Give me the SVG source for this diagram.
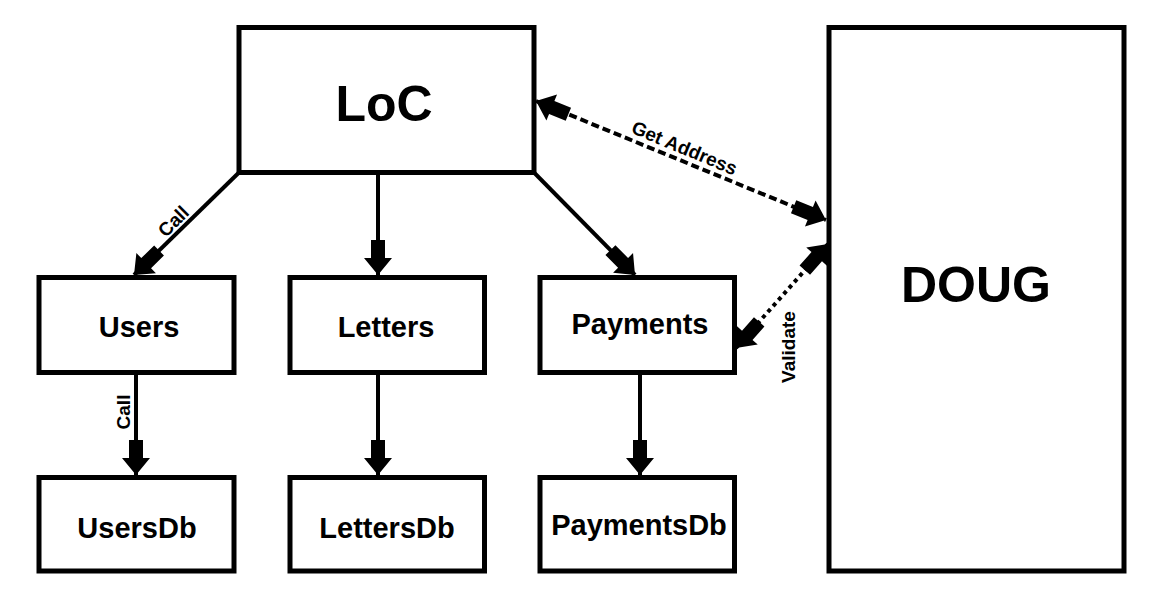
<svg xmlns="http://www.w3.org/2000/svg" width="1162" height="606" viewBox="0 0 1162 606">
<style>
.box{fill:#fff;stroke:#000;stroke-width:5}
.t{font-family:"Liberation Sans",Arial,sans-serif;font-weight:bold;fill:#000;text-anchor:middle}
.big{font-size:50px}
.mid{font-size:29px}
.lbl{font-size:19px}
.c{fill:none;stroke:#000;stroke-width:4}
.dash{stroke-dasharray:8 4}
.dot{stroke-dasharray:4 4}
</style>
<defs>
<marker id="ah" markerUnits="userSpaceOnUse" viewBox="-36 -16 37 32" refX="0" refY="0" markerWidth="37" markerHeight="32" orient="auto-start-reverse">
<path d="M-35,-7 L-17,-7 L-17,-14 L0,0 L-17,14 L-17,7 L-35,7 Z" fill="#000"/>
</marker>
</defs>
<rect width="1162" height="606" fill="#fff"/>
<g id="LoC"><rect class="box" x="239" y="27.5" width="295" height="145"/><text class="t big" x="384" y="121">LoC</text></g>
<g id="DOUG"><rect class="box" x="829" y="27.5" width="295" height="543.5"/><text class="t big" x="976" y="302">DOUG</text></g>
<g id="Users"><rect class="box" x="39" y="277.5" width="195" height="95"/><text class="t mid" x="139" y="337">Users</text></g>
<g id="Letters"><rect class="box" x="290" y="277.5" width="194.5" height="95"/><text class="t mid" x="386" y="337">Letters</text></g>
<g id="Payments"><rect class="box" x="540" y="277.5" width="194.5" height="95"/><text class="t mid" x="640" y="334">Payments</text></g>
<g id="UsersDb"><rect class="box" x="39" y="477.5" width="195" height="93.5"/><text class="t mid" x="137" y="538">UsersDb</text></g>
<g id="LettersDb"><rect class="box" x="290" y="477.5" width="194.5" height="93.5"/><text class="t mid" x="387" y="538">LettersDb</text></g>
<g id="PaymentsDb"><rect class="box" x="540" y="477.5" width="194.5" height="93.5"/><text class="t mid" x="639" y="535">PaymentsDb</text></g>
<g id="connectors">
<line class="c" x1="239" y1="172.5" x2="134" y2="275" marker-end="url(#ah)"/>
<line class="c" x1="378" y1="172.5" x2="378" y2="275" marker-end="url(#ah)"/>
<line class="c" x1="534" y1="172.5" x2="635" y2="275" marker-end="url(#ah)"/>
<line class="c" x1="136" y1="372.5" x2="136" y2="475" marker-end="url(#ah)"/>
<line class="c" x1="378" y1="372.5" x2="378" y2="475" marker-end="url(#ah)"/>
<line class="c" x1="640" y1="372.5" x2="640" y2="475" marker-end="url(#ah)"/>
<line class="c dash" x1="536" y1="101" x2="826" y2="220" marker-start="url(#ah)" marker-end="url(#ah)"/>
<line class="c dot" x1="736" y1="348" x2="828" y2="244" marker-start="url(#ah)" marker-end="url(#ah)"/>
<text class="t lbl" transform="translate(178,226) rotate(-45)">Call</text>
<text class="t lbl" transform="translate(130,412) rotate(-90)">Call</text>
<text class="t lbl" transform="translate(682,154) rotate(22.5)">Get Address</text>
<text class="t lbl" transform="translate(795,347) rotate(-90)">Validate</text>
</g>
</svg>
